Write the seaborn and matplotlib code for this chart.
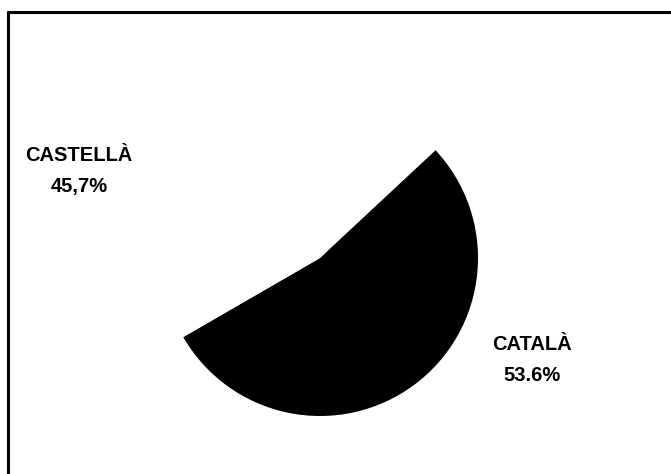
import matplotlib
matplotlib.use("Agg")
import matplotlib.pyplot as plt
import seaborn as sns
from matplotlib.lines import Line2D

# =====================
# Data
# =====================
languages = ["CATALÀ", "CASTELLÀ"]
shares = [53.6, 45.7]
share_labels = ["53.6%", "45,7%"]
slice_colors = ["black", "white"]

# =====================
# Style
# =====================
sns.set_theme(style="white")
plt.rcParams["font.family"] = ["Liberation Sans", "DejaVu Sans"]

fig = plt.figure(figsize=(6.71, 4.74), dpi=100)
ax = fig.add_axes([0, 0, 1, 1])

# pie (only the Català wedge is visible, as in the original)
ax.pie([s / 100 for s in shares], colors=slice_colors, startangle=43,
       counterclock=False, normalize=False, center=(320, 216), radius=158,
       wedgeprops=dict(linewidth=0), frame=True)
ax.set_xlim(0, 671)
ax.set_ylim(0, 474)
ax.set_aspect("equal")
ax.axis("off")

# labels
label_pos = [(532, 114), (79, 303)]
for name, pct, (x, y) in zip(languages, share_labels, label_pos):
    ax.text(x, y, f"{name}\n{pct}", ha="center", va="center",
            fontsize=14.5, fontweight="bold", linespacing=1.75, color="black")

# frame lines (top and left only, the rest is cut off)
fig.add_artist(Line2D([7.5 / 671, 1.0], [1 - 11.5 / 474, 1 - 11.5 / 474],
                      transform=fig.transFigure, color="black", linewidth=2.2))
fig.add_artist(Line2D([7.5 / 671, 7.5 / 671], [0.0, 1 - 11.5 / 474],
                      transform=fig.transFigure, color="black", linewidth=2.2))

plt.savefig("out.png", dpi=100)
